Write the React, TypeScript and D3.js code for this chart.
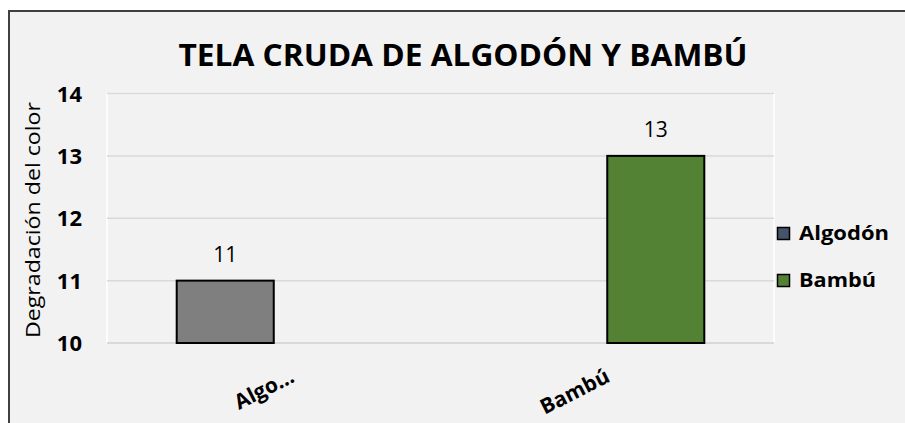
import React from "react";
import * as d3 from "d3";

const title = "TELA CRUDA DE ALGODÓN Y BAMBÚ";
const yAxisTitle = "Degradación del color";
const categories = ["Algodón", "Bambú"];
const categoryLabels = ["Algo…", "Bambú"];
const seriesNames = ["Algodón", "Bambú"];
const algodonValues: (number | null)[] = [11, null];
const bambuValues: (number | null)[] = [null, 13];
const yTicks = [10, 11, 12, 13, 14];
const barFills = ["#7f7f7f", "#548235"];
const legendFills = ["#44546a", "#548235"];

const W = 905;
const H = 423;
const plot = { left: 107, right: 774, top: 93.5, bottom: 343 };
const FONT = "'Open Sans', 'Noto Sans', sans-serif";

export default function App() {
  const seriesValues = [algodonValues, bambuValues];
  const y = d3.scaleLinear().domain([10, 14]).range([plot.bottom, plot.top]);
  const x0 = d3.scaleBand<string>().domain(categories).range([plot.left, plot.right]).padding(0);
  const bw = x0.bandwidth();
  const x1 = d3.scaleBand<string>().domain(seriesNames).range([bw * 0.209, bw * 0.791]).padding(0);

  const bars: { x: number; w: number; v: number; fill: string; key: string }[] = [];
  categories.forEach((c, ci) => {
    seriesNames.forEach((s, si) => {
      const v = seriesValues[si][ci];
      if (v == null) return;
      bars.push({ x: (x0(c) as number) + (x1(s) as number), w: x1.bandwidth(), v, fill: barFills[si], key: c + s });
    });
  });

  return (
    <svg width={W} height={H} style={{ position: "absolute", left: 0, top: 0, background: "#fff" }}>
      <rect x={9} y={11} width={W} height={H} fill="#f2f2f2" stroke="#404040" strokeWidth={2} />
      <text x={463} y={66} textAnchor="middle" fontFamily={FONT} fontWeight={700} fontSize={31}
        textLength={569} lengthAdjust="spacingAndGlyphs" fill="#000">{title}</text>
      <rect x={plot.left} y={plot.top} width={plot.right - plot.left} height={plot.bottom - plot.top}
        fill="#f2f2f2" stroke="#ffffff" strokeWidth={1.5} />
      {yTicks.map((t) => (
        <g key={t}>
          <line x1={plot.left} x2={plot.right} y1={y(t)} y2={y(t)} stroke="#d9d9d9" strokeWidth={t === 10 ? 2 : 1.5} />
          <text x={82} y={y(t) + 8} textAnchor="end" fontFamily={FONT} fontWeight={700} fontSize={22} fill="#000">{t}</text>
        </g>
      ))}
      <text transform={`translate(40,220) rotate(-90)`} textAnchor="middle" fontFamily={FONT} fontSize={20}
        textLength={236} lengthAdjust="spacingAndGlyphs" fill="#000">{yAxisTitle}</text>
      {bars.map((b) => (
        <g key={b.key}>
          <rect x={b.x} y={y(b.v)} width={b.w} height={y(10) - y(b.v)} fill={b.fill} stroke="#000" strokeWidth={2} />
          <text x={b.x + b.w / 2} y={y(b.v) - 19} textAnchor="middle" fontFamily={FONT} fontSize={21} fill="#000">{b.v}</text>
        </g>
      ))}
      {categories.map((c, i) => {
        const cx = (x0(c) as number) + bw / 2;
        const dx = i === 0 ? 22 : 4;
        return (
          <text key={c} transform={`translate(${cx + dx},381) rotate(-27)`} textAnchor="end" fontFamily={FONT}
            fontWeight={700} fontSize={21} fill="#000">{categoryLabels[i]}</text>
        );
      })}
      {seriesNames.map((s, i) => {
        const ly = 240 + i * 47;
        return (
          <g key={s}>
            <rect x={777.5} y={ly - 12.5} width={12} height={12} fill={legendFills[i]} stroke="#000" strokeWidth={1.5} />
            <text x={799} y={ly} fontFamily={FONT} fontWeight={700} fontSize={20}
              textLength={i === 0 ? 90 : 77} lengthAdjust="spacingAndGlyphs" fill="#000">{s}</text>
          </g>
        );
      })}
    </svg>
  );
}
